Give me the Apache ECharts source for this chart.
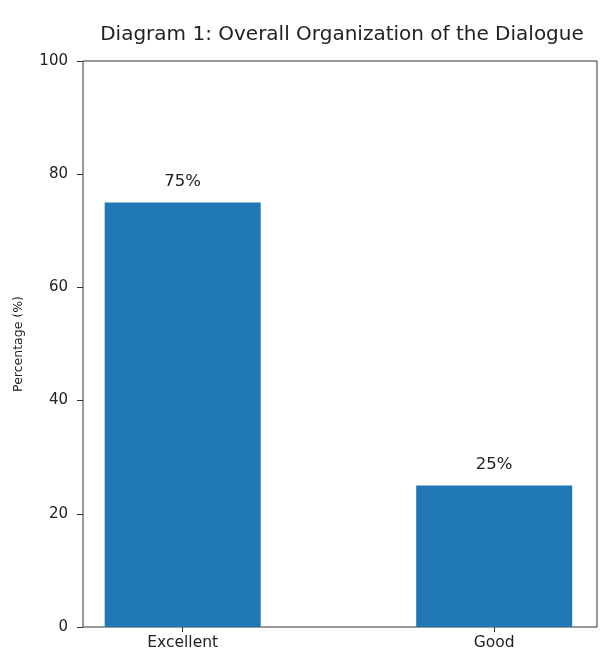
<!DOCTYPE html>
<html>
<head>
<meta charset="utf-8">
<script src="https://cdn.jsdelivr.net/npm/echarts@6/dist/echarts.min.js"></script>
<style>html,body{margin:0;padding:0;background:#fff}#c{width:604px;height:654px}</style>
</head>
<body>
<div id="c"></div>
<script>
const categories = ['Excellent', 'Good'];
const values = [75, 25];
const yTicks = [0, 20, 40, 60, 80, 100];

const chart = echarts.init(document.getElementById('c'));
const font = 'DejaVu Sans';
chart.setOption({
  animation: false,
  backgroundColor: '#fff',
  title: {
    text: 'Diagram 1: Overall Organization of the Dialogue',
    left: 337, top: 20, textAlign: 'center',
    textStyle: { fontFamily: font, fontSize: 20, fontWeight: 'normal', color: '#222' }
  },
  grid: {
    left: 83, right: 7, top: 61, bottom: 27,
    show: true, borderColor: '#333', borderWidth: 1, backgroundColor: 'transparent'
  },
  xAxis: {
    type: 'value', min: -0.32, max: 1.33,
    splitLine: { show: false },
    axisLine: { show: false, onZero: false },
    axisTick: { show: true, length: 5, lineStyle: { color: '#333' }, customValues: [0, 1] },
    axisLabel: {
      customValues: [0, 1], margin: 8,
      formatter: v => categories[Math.round(v)] || '',
      fontFamily: font, fontSize: 15.5, color: '#222'
    }
  },
  yAxis: {
    type: 'value', min: 0, max: 100, interval: 20,
    name: 'Percentage (%)', nameLocation: 'middle', nameGap: 58,
    nameTextStyle: { fontFamily: font, fontSize: 12.5, color: '#222' },
    splitLine: { show: false },
    axisLine: { show: false, onZero: false },
    axisTick: { show: true, length: 6, lineStyle: { color: '#333' } },
    axisLabel: { margin: 15, fontFamily: font, fontSize: 15, color: '#222',
      formatter: v => yTicks.includes(v) ? String(v) : '' }
  },
  series: [{
    type: 'bar',
    barWidth: 156,
    data: values.map((v, i) => [i, v]),
    itemStyle: { color: '#1f77b4' },
    label: {
      show: true, position: 'top', distance: 12,
      formatter: p => p.value[1] + '%',
      fontFamily: font, fontSize: 16.5, color: '#222'
    }
  }]
});
</script>
</body>
</html>
